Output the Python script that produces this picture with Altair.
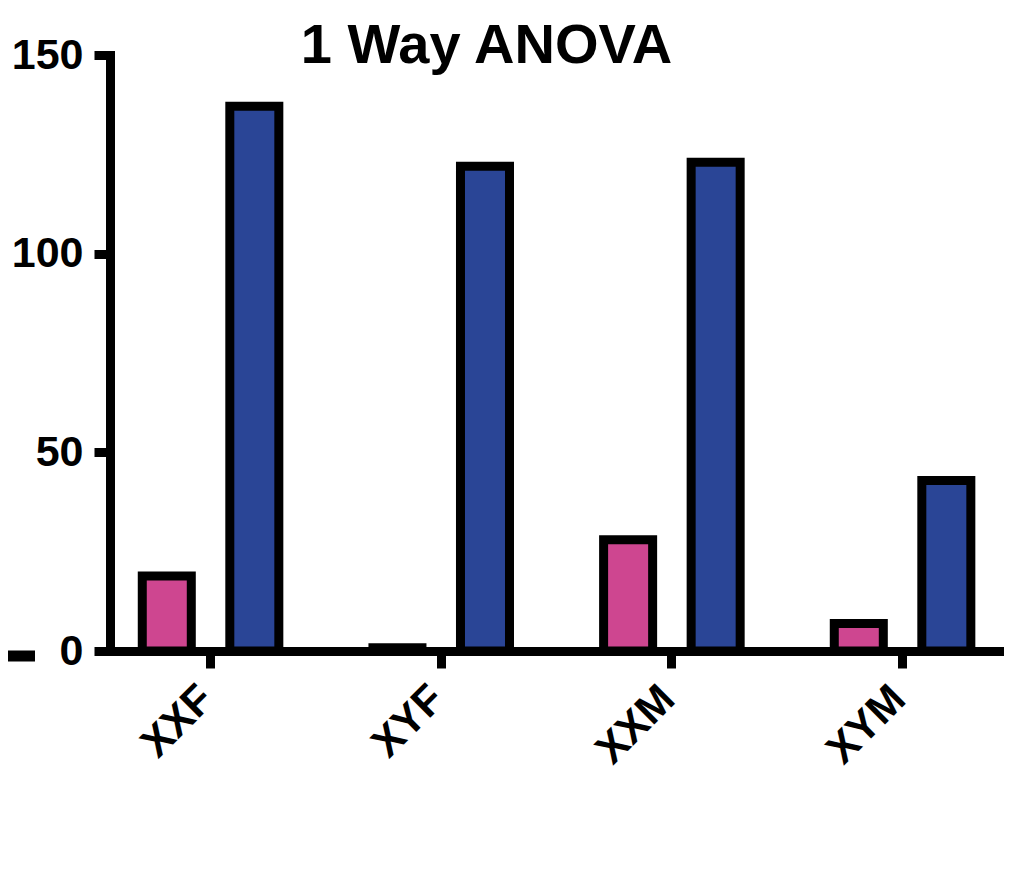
import altair as alt
import pandas as pd

groups = ["XXF", "XYF", "XXM", "XYM"]
series = ["Series 1", "Series 2"]
series1_values = [18.9, 0.8, 28.0, 6.9]
series2_values = [137.1, 122.0, 123.0, 42.9]
colors = ["#CE4690", "#2A4596"]
y_ticks = [0, 50, 100, 150]

rows = []
for g, a, b in zip(groups, series1_values, series2_values):
    rows.append({"group": g, "series": series[0], "value": a})
    rows.append({"group": g, "series": series[1], "value": b})
df = pd.DataFrame(rows)

W, H = 889, 596
FONT = "Liberation Sans"

bars = alt.Chart(df).mark_bar(stroke="black", strokeWidth=9, strokeJoin="miter").encode(
    x=alt.X("group:N", sort=groups, title=None,
            scale=alt.Scale(paddingInner=0.408, paddingOuter=0.131, align=0.534),
            axis=alt.Axis(labelAngle=-45, labelFontSize=42, labelFont=FONT,
                          labelFontWeight="bold", labelColor="black",
                          labelAlign="right", labelBaseline="middle", labelPadding=24,
                          labelOffset=-4,
                          tickSize=17, tickWidth=9, tickColor="black",
                          domainColor="black", domainWidth=9, domainCap="square",
                          grid=False)),
    xOffset=alt.XOffset("series:N", sort=series,
                        scale=alt.Scale(paddingInner=0.44, paddingOuter=0)),
    y=alt.Y("value:Q", title=None,
            scale=alt.Scale(domain=[0, 150], nice=False, zero=True),
            axis=alt.Axis(values=y_ticks, labelFontSize=43, labelFont=FONT,
                          labelFontWeight="bold", labelColor="black", labelPadding=11,
                          tickSize=16, tickWidth=9, tickColor="black",
                          domainColor="black", domainWidth=9, domainCap="square",
                          grid=False)),
    color=alt.Color("series:N", scale=alt.Scale(domain=series, range=colors), legend=None),
)

dash = alt.Chart(pd.DataFrame({"k": [0]})).mark_rule(color="black", strokeWidth=11).encode(
    x=alt.value(-110), x2=alt.value(-75), y=alt.value(H + 5)
)

chart = alt.layer(bars, dash).properties(
    width=W, height=H,
    title=alt.Title("1 Way ANOVA", fontSize=56, font=FONT, fontWeight="bold",
                    color="black", anchor="middle", frame="group", dx=-68, dy=45),
    autosize=alt.AutoSizeParams(type="none"),
    padding={"left": 102, "top": 47, "right": 10, "bottom": 220},
).configure_view(stroke=None)

chart.save("out.html", embed_options={"renderer": "svg", "actions": False})
